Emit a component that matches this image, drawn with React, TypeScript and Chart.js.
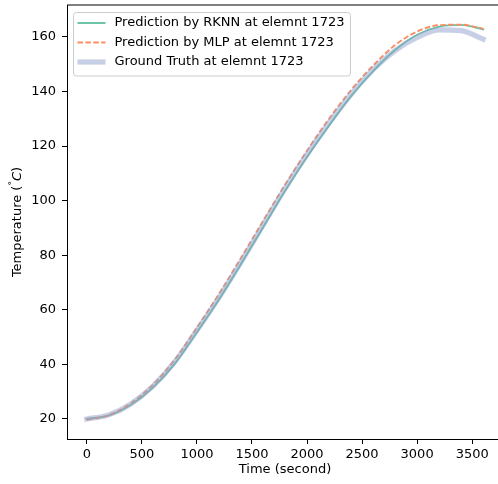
import React, { useEffect, useRef } from "react";
import { Chart, registerables } from "chart.js";

Chart.register(...registerables);

// ---- data ----
const timeSeconds = [0, 200, 400, 600, 800, 1000, 1200, 1400, 1600, 1800, 2000, 2200, 2400, 2600, 2800, 3000, 3200, 3400, 3600];
const groundTruth = [20, 21.5, 25.5, 32, 41, 52.5, 64.5, 77.5, 91, 104.5, 117, 128.5, 139, 148, 155, 159.8, 162.6, 162.3, 159.2];
const rknnPred = [20, 21.3, 25.2, 31.5, 40.3, 51.8, 63.8, 76.8, 90.2, 103.5, 116, 127.5, 138.3, 147.5, 155.2, 160.8, 163.8, 164.4, 162.8];
const mlpPred = [19.7, 21.4, 25.7, 32.5, 41.8, 53.5, 65.8, 79, 92.5, 105.8, 118.3, 130, 140.5, 149.5, 157, 162, 164.3, 164.5, 163];
const xTicks = [0, 500, 1000, 1500, 2000, 2500, 3000, 3500];
const yTicks = [20, 40, 60, 80, 100, 120, 140, 160];
const legendLabels = [
  "Prediction by RKNN at elemnt 1723",
  "Prediction by MLP at elemnt 1723",
  "Ground Truth at elemnt 1723",
];
const xTitle = "Time (second)";

const FONT = "'DejaVu Sans', sans-serif";
const FS = 13;
const C_RKNN = "#66c2a5";
const C_MLP = "#fc8d62";
const C_GT = "rgba(141,160,203,0.5)";

const CANVAS_W = 505;
const CANVAS_H = 484;

const pts = (ys: number[]) => timeSeconds.map((t, i) => ({ x: t, y: ys[i] }));

const decorPlugin = {
  id: "decor",
  afterDraw(chart: any) {
    const ctx = chart.ctx as CanvasRenderingContext2D;
    const a = chart.chartArea;
    ctx.save();
    // top and right spines
    ctx.strokeStyle = "#000";
    ctx.lineWidth = 1;
    ctx.beginPath();
    ctx.moveTo(a.left, a.top);
    ctx.lineTo(a.right, a.top);
    ctx.lineTo(a.right, a.bottom);
    ctx.stroke();

    // legend
    const lx = a.left + 6.5;
    const ly = a.top + 7.5;
    const lw = 277;
    const lh = 63.5;
    const r = 3;
    ctx.beginPath();
    ctx.moveTo(lx + r, ly);
    ctx.lineTo(lx + lw - r, ly);
    ctx.arcTo(lx + lw, ly, lx + lw, ly + r, r);
    ctx.lineTo(lx + lw, ly + lh - r);
    ctx.arcTo(lx + lw, ly + lh, lx + lw - r, ly + lh, r);
    ctx.lineTo(lx + r, ly + lh);
    ctx.arcTo(lx, ly + lh, lx, ly + lh - r, r);
    ctx.lineTo(lx, ly + r);
    ctx.arcTo(lx, ly, lx + r, ly, r);
    ctx.closePath();
    ctx.fillStyle = "rgba(255,255,255,0.8)";
    ctx.fill();
    ctx.strokeStyle = "#cccccc";
    ctx.lineWidth = 1;
    ctx.stroke();

    const styles = [
      { color: C_RKNN, width: 1.9, dash: [] as number[] },
      { color: C_MLP, width: 1.9, dash: [5.5, 2.4] },
      { color: C_GT, width: 5.2, dash: [] as number[] },
    ];
    ctx.font = `${FS}px ${FONT}`;
    ctx.textBaseline = "middle";
    ctx.textAlign = "left";
    legendLabels.forEach((lab, i) => {
      const cy = ly + 10.5 + i * 19.5;
      const s = styles[i];
      ctx.beginPath();
      ctx.setLineDash(s.dash);
      ctx.strokeStyle = s.color;
      ctx.lineWidth = s.width;
      ctx.moveTo(lx + 4, cy);
      ctx.lineTo(lx + 32, cy);
      ctx.stroke();
      ctx.setLineDash([]);
      ctx.fillStyle = "#000";
      ctx.fillText(lab, lx + 41, cy);
    });

    // x axis title
    ctx.textAlign = "center";
    ctx.textBaseline = "middle";
    ctx.fillStyle = "#000";
    ctx.font = `${FS}px ${FONT}`;
    ctx.fillText(xTitle, (a.left + a.right) / 2, a.bottom + 31);

    // y axis title: Temperature (°C) with superscript degree and italic C
    const parts = [
      { t: "Temperature (", f: `${FS}px ${FONT}`, dy: 0 },
      { t: "°", f: `${FS * 0.7}px ${FONT}`, dy: -4.5 },
      { t: "C", f: `oblique ${FS}px ${FONT}`, dy: 0 },
      { t: ")", f: `${FS}px ${FONT}`, dy: 0 },
    ];
    let total = 0;
    const widths = parts.map((p) => {
      ctx.font = p.f;
      const w = ctx.measureText(p.t).width;
      total += w;
      return w;
    });
    ctx.translate(17.5, (a.top + a.bottom) / 2);
    ctx.rotate(-Math.PI / 2);
    ctx.textAlign = "left";
    let x = -total / 2;
    parts.forEach((p, i) => {
      ctx.font = p.f;
      ctx.fillText(p.t, x, p.dy);
      x += widths[i];
    });
    ctx.restore();
  },
};

export default function App() {
  const ref = useRef<HTMLCanvasElement | null>(null);
  useEffect(() => {
    if (!ref.current) return;
    const chart = new Chart(ref.current, {
      type: "line",
      data: {
        datasets: [
          {
            label: legendLabels[0],
            data: pts(rknnPred),
            borderColor: C_RKNN,
            borderWidth: 1.9,
            pointRadius: 0,
            cubicInterpolationMode: "monotone",
            borderCapStyle: "square",
            order: 2,
          },
          {
            label: legendLabels[1],
            data: pts(mlpPred),
            borderColor: C_MLP,
            borderWidth: 1.9,
            borderDash: [5.5, 2.4],
            pointRadius: 0,
            cubicInterpolationMode: "monotone",
            order: 1,
          },
          {
            label: legendLabels[2],
            data: pts(groundTruth),
            borderColor: C_GT,
            borderWidth: 5.2,
            pointRadius: 0,
            cubicInterpolationMode: "monotone",
            borderCapStyle: "square",
            order: 0,
          },
        ],
      },
      options: {
        animation: false,
        responsive: false,
        devicePixelRatio: 1,
        layout: { padding: { left: 0, top: 5, right: CANVAS_W - 503, bottom: 0 } },
        plugins: { legend: { display: false }, tooltip: { enabled: false } },
        scales: {
          x: {
            type: "linear",
            min: -180,
            max: 3780,
            afterBuildTicks: (s: any) => {
              s.ticks = xTicks.map((v) => ({ value: v }));
            },
            afterFit: (s: any) => {
              s.height = 45;
              s.paddingLeft = 0;
              s.paddingRight = 0;
            },
            grid: { drawOnChartArea: false, drawTicks: true, tickLength: 5, color: "#000", lineWidth: 1 },
            border: { display: true, color: "#000", width: 1 },
            ticks: {
              font: { family: FONT, size: FS },
              color: "#000",
              padding: 3,
              maxRotation: 0,
              autoSkip: false,
              callback: (v: any) => String(v),
            },
          },
          y: {
            type: "linear",
            min: 12.66,
            max: 171.7,
            afterBuildTicks: (s: any) => {
              s.ticks = yTicks.map((v) => ({ value: v }));
            },
            afterFit: (s: any) => {
              s.width = 67;
              s.paddingTop = 0;
              s.paddingBottom = 0;
            },
            grid: { drawOnChartArea: false, drawTicks: true, tickLength: 5, color: "#000", lineWidth: 1 },
            border: { display: true, color: "#000", width: 1 },
            ticks: {
              font: { family: FONT, size: FS },
              color: "#000",
              padding: 6,
              autoSkip: false,
              callback: (v: any) => String(v),
            },
          },
        },
      },
      plugins: [decorPlugin],
    } as any);
    return () => chart.destroy();
  }, []);

  return (
    <div style={{ position: "fixed", left: 0, top: 0, width: 498, height: 484, overflow: "hidden", background: "#fff" }}>
      <canvas ref={ref} width={CANVAS_W} height={CANVAS_H} style={{ width: CANVAS_W, height: CANVAS_H, display: "block" }} />
    </div>
  );
}
